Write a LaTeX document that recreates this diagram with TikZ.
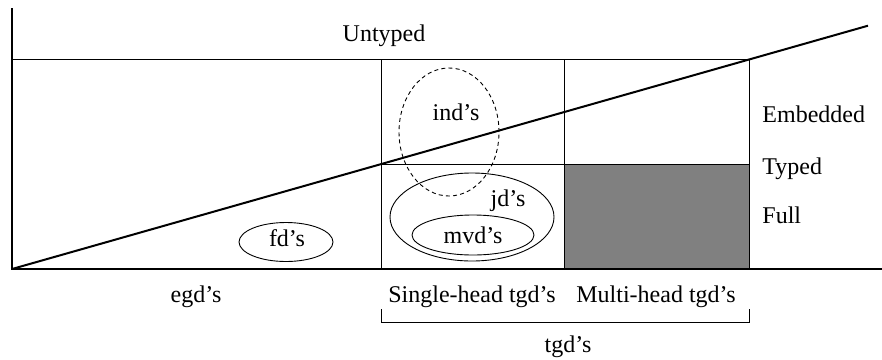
\documentclass[tikz,border=0pt]{standalone}
\usepackage{fontspec}
\setmainfont{Liberation Serif}
\usetikzlibrary{shapes.geometric}
\tikzset{
	axis/.style={
		draw,
		line width=1pt
	},
	cell/.style={
		draw,
		line width=0.45pt
	},
	shaded/.style={
		cell,
		fill=black!50
	},
	region/.style={
		ellipse,
		draw,
		line width=0.45pt,
		inner sep=0pt
	},
	dregion/.style={
		region,
		dash pattern=on 2pt off 1.6pt
	},
	txt/.style={
		inner sep=0pt,
		font=\fontsize{12}{14}\selectfont
	},
}

\begin{document}
\begin{tikzpicture}[x=0.5pt,y=-0.5pt]
					\useasboundingbox (0,0) rectangle (882,359);
					% grid corners
					\coordinate (top) at (12,8);
					\coordinate (o) at (12,269);
					\coordinate (end) at (882,269);
					\coordinate (tl) at (12,59);
					\coordinate (tr) at (749,59);
					\coordinate (ml) at (381,164);
					\coordinate (mr) at (749,164);
					\coordinate (t1) at (381,59);
					\coordinate (t2) at (564,59);
					\coordinate (b1) at (381,269);
					\coordinate (b2) at (564,269);
					\coordinate (b3) at (749,269);
					\coordinate (tip) at (868,25.7);
					
					\path[shaded] (564,164) rectangle (b3);
					\path[cell] (tl) -- (tr) -- (b3);
					\path[cell] (ml) -- (mr);
					\path[cell] (t1) -- (b1);
					\path[cell] (t2) -- (b2);
					\path[axis] (top) -- (o) -- (end);
					\path[axis] (o) -- (tip);
					
					\node [region, minimum width=47pt, minimum height=19.5pt] (fd) at (286,242) {};
					\node [region, minimum width=82pt, minimum height=44pt] (jd) at (472,217) {};
					\node [region, minimum width=61pt, minimum height=20pt] (mvd) at (473,235) {};
					\node [dregion, minimum width=50pt, minimum height=64pt] (ind) at (449,132) {};
					
					\node [txt, anchor=base] (untyped) at (384,41) {Untyped};
					\node [txt, anchor=base west] (embedded) at (762,122.7) {Embedded};
					\node [txt, anchor=base west] (typed) at (762,174) {Typed};
					\node [txt, anchor=base west] (full) at (762,223.3) {Full};
					\node [txt, anchor=base] (indl) at (456,120.7) {ind’s};
					\node [txt, anchor=base] (jdl) at (508,206.7) {jd’s};
					\node [txt, anchor=base] (mvdl) at (473,243.3) {mvd’s};
					\node [txt, anchor=base] (fdl) at (287,246.7) {fd’s};
					\node [txt, anchor=base] (egd) at (196,302.5) {egd’s};
					\node [txt, anchor=base] (single) at (472,302) {Single-head tgd’s};
					\node [txt, anchor=base] (multi) at (656,302) {Multi-head tgd’s};
					\node [txt, anchor=base] (tgd) at (568,352) {tgd’s};
					
					% brace under the tgd columns
					\coordinate (bl) at (381,309);
					\coordinate (br) at (749,309);
					\path[cell] (bl) -- ++(0,13) -| (br);
					\end{tikzpicture}
\end{document}
